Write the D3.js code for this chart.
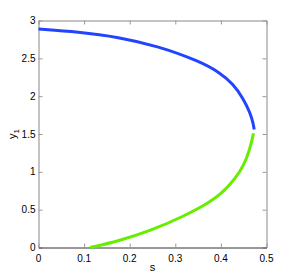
<!DOCTYPE html>
<html>
<head>
<meta charset="utf-8">
<script src="https://cdn.jsdelivr.net/npm/d3@7"></script>
<style>
  body { margin: 0; background: #fff; }
  text { font-family: "Liberation Sans", Arial, sans-serif; }
</style>
</head>
<body>
<svg id="chart"></svg>
<script>
// upper branch (blue)
var upperS = [0, 0.087, 0.175, 0.262, 0.354, 0.398, 0.427, 0.449, 0.464, 0.4705, 0.473];
var upperY = [2.888, 2.85, 2.782, 2.662, 2.46, 2.31, 2.16, 1.97, 1.78, 1.65, 1.56];
// lower branch (green)
var lowerS = [0.113, 0.175, 0.245, 0.318, 0.376, 0.398, 0.42, 0.442, 0.457, 0.466, 0.4715];
var lowerY = [0, 0.085, 0.22, 0.41, 0.60, 0.70, 0.83, 1.0, 1.18, 1.36, 1.51];

var xTicks = [0, 0.1, 0.2, 0.3, 0.4, 0.5];
var yTicks = [0, 0.5, 1, 1.5, 2, 2.5, 3];

var width = 294, height = 278;
// note: "top" is reserved on window, so prefix these
var plotLeft = 38.5, plotRight = 266.5, plotTop = 20.5, plotBottom = 247.5;

var svg = d3.select('#chart').attr('width', width).attr('height', height);

var x = d3.scaleLinear().domain([0, 0.5]).range([plotLeft, plotRight]);
var y = d3.scaleLinear().domain([0, 3]).range([plotBottom, plotTop]);

function fmt(d) { return d3.format('')(d); }

function styleAxis(domainColor) {
    return function(g) {
        g.selectAll('line').attr('stroke', '#999');
        g.select('.domain').attr('stroke', domainColor);
    };
}

// frame axes, ticks pointing inward
svg.append('g').attr('transform', 'translate(0,' + plotTop + ')')
    .call(d3.axisBottom(x).tickValues(xTicks).tickSize(4).tickSizeOuter(0).tickFormat(''))
    .call(styleAxis('#888'));
svg.append('g').attr('transform', 'translate(' + plotLeft + ',0)')
    .call(d3.axisRight(y).tickValues(yTicks).tickSize(4).tickSizeOuter(0).tickFormat(''))
    .call(styleAxis('#888'));
svg.append('g').attr('transform', 'translate(' + plotRight + ',0)')
    .call(d3.axisLeft(y).tickValues(yTicks).tickSize(4).tickSizeOuter(0).tickFormat(''))
    .call(styleAxis('#888'));
svg.append('g').attr('transform', 'translate(0,' + plotBottom + ')')
    .call(d3.axisTop(x).tickValues(xTicks).tickSize(4).tickSizeOuter(0).tickFormat(''))
    .call(styleAxis('#333'));

// tick labels
svg.selectAll('.xlab').data(xTicks).enter().append('text')
    .attr('class', 'xlab')
    .attr('x', function(d) { return x(d); })
    .attr('y', plotBottom + 14)
    .attr('text-anchor', 'middle')
    .attr('font-size', 10)
    .text(fmt);
svg.selectAll('.ylab').data(yTicks).enter().append('text')
    .attr('class', 'ylab')
    .attr('x', plotLeft - 3)
    .attr('y', function(d) { return y(d) + 3.5; })
    .attr('text-anchor', 'end')
    .attr('font-size', 10)
    .text(fmt);

// axis titles
svg.append('text')
    .attr('x', x(0.25)).attr('y', 271)
    .attr('text-anchor', 'middle')
    .attr('font-size', 11)
    .text('s');
var yt = svg.append('text')
    .attr('transform', 'translate(16,' + y(1.5) + ') rotate(-90)')
    .attr('text-anchor', 'middle')
    .attr('font-size', 11);
yt.append('tspan').text('y');
yt.append('tspan').attr('font-size', 8).attr('dy', 3).text('1');

var line = d3.line()
    .x(function(d) { return x(d[0]); })
    .y(function(d) { return y(d[1]); })
    .curve(d3.curveBasis);

svg.append('path')
    .datum(d3.zip(upperS, upperY))
    .attr('d', line)
    .attr('fill', 'none')
    .attr('stroke', '#2244ff')
    .attr('stroke-width', 3);

svg.append('path')
    .datum(d3.zip(lowerS, lowerY))
    .attr('d', line)
    .attr('fill', 'none')
    .attr('stroke', '#66ee00')
    .attr('stroke-width', 3);
</script>
</body>
</html>
